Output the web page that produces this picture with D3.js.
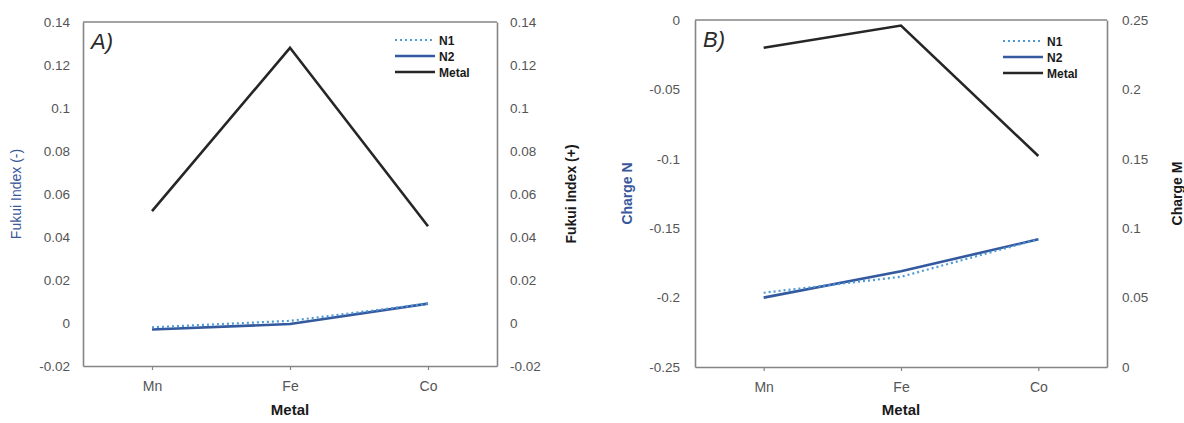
<!DOCTYPE html>
<html lang="en">
<head>
<meta charset="UTF-8">
<title>Fukui index and charge</title>
<style>
  body { margin: 0; background: #fff; }
  svg { font-family: "Liberation Sans", Arial, sans-serif; }
</style>
</head>
<body>
<script src="https://d3js.org/d3.v7.min.js"></script>
<script>
// categories
var metals = ["Mn", "Fe", "Co"];

// panel A - fukui index
var fukuiN1 = [-0.002, 0.001, 0.009];
var fukuiN2 = [-0.003, -0.0005, 0.009];
var fukuiMetal = [0.052, 0.128, 0.045];
var fukuiTicks = [-0.02, 0, 0.02, 0.04, 0.06, 0.08, 0.1, 0.12, 0.14];

// panel B - charges
var chargeN1 = [-0.1965, -0.185, -0.158];
var chargeN2 = [-0.200, -0.181, -0.158];
var chargeMetal = [0.230, 0.246, 0.152];
var chargeNTicks = [-0.25, -0.2, -0.15, -0.1, -0.05, 0];
var chargeMTicks = [0, 0.05, 0.1, 0.15, 0.2, 0.25];

var legendNames = ["N1", "N2", "Metal"];

var svg = d3.select("body").append("svg")
    .attr("width", 1184)
    .attr("height", 423);

var frameColor = "#858585";
var colN1 = "#4d9ad6", colN2 = "#34599f", colMetal = "#262626";
var fmt = function (d) { return String(+d.toFixed(3)); };

function drawPanel(p) {
    var x = d3.scalePoint().domain(metals).range([p.left, p.right]).padding(0.5);
    var yL = d3.scaleLinear().domain(p.leftDomain).range([p.bottom, p.top]);
    var yR = d3.scaleLinear().domain(p.rightDomain).range([p.bottom, p.top]);

    var g = svg.append("g");

    // frame top
    g.append("line")
        .attr("x1", p.left).attr("x2", p.right)
        .attr("y1", p.top).attr("y2", p.top)
        .attr("stroke", frameColor).attr("stroke-width", 1.6);

    var ax = g.append("g").attr("transform", "translate(0," + p.bottom + ")")
        .call(d3.axisBottom(x).tickSize(4).tickPadding(11).tickSizeOuter(0));
    var al = g.append("g").attr("transform", "translate(" + p.left + ",0)")
        .call(d3.axisLeft(yL).tickValues(p.leftTicks).tickFormat(fmt).tickSize(0).tickPadding(p.pad));
    var ar = g.append("g").attr("transform", "translate(" + p.right + ",0)")
        .call(d3.axisRight(yR).tickValues(p.rightTicks).tickFormat(fmt).tickSize(0).tickPadding(p.pad));

    [ax, al, ar].forEach(function (a) {
        a.select(".domain").attr("stroke", frameColor).attr("stroke-width", 1.6);
        a.selectAll(".tick line").attr("stroke", frameColor).attr("stroke-width", 1.2);
        a.selectAll("text").attr("fill", "#555").style("font-size", "13.5px");
    });
    ax.selectAll("text").style("font-size", "14px");

    var line = function (y) {
        return d3.line().x(function (d, i) { return x(metals[i]); }).y(function (d) { return y(d); });
    };

    g.append("path").datum(p.n2).attr("d", line(yL))
        .attr("fill", "none").attr("stroke", colN2).attr("stroke-width", 2.6);
    g.append("path").datum(p.n1).attr("d", line(yL))
        .attr("fill", "none").attr("stroke", colN1).attr("stroke-width", 2.2)
        .attr("stroke-dasharray", "2,3");
    g.append("path").datum(p.metal).attr("d", line(yR))
        .attr("fill", "none").attr("stroke", colMetal).attr("stroke-width", 2.6);

    // axis titles
    var cx = (p.left + p.right) / 2;
    g.append("text").attr("x", cx).attr("y", 415)
        .attr("text-anchor", "middle").style("font-size", "15px").style("font-weight", "bold")
        .attr("fill", "#1a1a1a").text("Metal");
    var cy = (p.top + p.bottom) / 2;
    g.append("text")
        .attr("transform", "translate(" + p.leftTitleX + "," + cy + ") rotate(-90)")
        .attr("text-anchor", "middle").style("font-size", "14px")
        .style("font-weight", p.leftTitleBold ? "bold" : "normal")
        .attr("fill", "#3a5799").text(p.leftTitle);
    g.append("text")
        .attr("transform", "translate(" + p.rightTitleX + "," + cy + ") rotate(-90)")
        .attr("text-anchor", "middle").style("font-size", "14px").style("font-weight", "bold")
        .attr("fill", "#1a1a1a").text(p.rightTitle);

    // panel letter
    g.append("text").attr("x", p.left + 8).attr("y", p.top + 27)
        .style("font-size", "22px").style("font-style", "italic")
        .attr("fill", "#2a2a2a").text(p.letter);

    // legend
    var leg = g.append("g").attr("transform", "translate(" + p.legX + "," + p.legY + ")");
    var styles = [
        { c: colN1, w: 2.2, dash: "2,3" },
        { c: colN2, w: 2.6, dash: null },
        { c: colMetal, w: 2.6, dash: null }
    ];
    legendNames.forEach(function (name, i) {
        leg.append("line").attr("x1", 0).attr("x2", 40)
            .attr("y1", i * 16).attr("y2", i * 16)
            .attr("stroke", styles[i].c).attr("stroke-width", styles[i].w)
            .attr("stroke-dasharray", styles[i].dash);
        leg.append("text").attr("x", 44).attr("y", i * 16 + 4.5)
            .style("font-size", "12px").style("font-weight", "bold")
            .attr("fill", "#1a1a1a").text(name);
    });
}

drawPanel({
    left: 83, right: 497, top: 22, bottom: 366, pad: 13,
    leftDomain: [-0.02, 0.14], rightDomain: [-0.02, 0.14],
    leftTicks: fukuiTicks, rightTicks: fukuiTicks,
    n1: fukuiN1, n2: fukuiN2, metal: fukuiMetal,
    leftTitle: "Fukui Index (-)", leftTitleBold: false, leftTitleX: 21,
    rightTitle: "Fukui Index (+)", rightTitleX: 576,
    letter: "A)", legX: 395, legY: 40
});

drawPanel({
    left: 695, right: 1107, top: 20, bottom: 367, pad: 15,
    leftDomain: [-0.25, 0], rightDomain: [0, 0.25],
    leftTicks: chargeNTicks, rightTicks: chargeMTicks,
    n1: chargeN1, n2: chargeN2, metal: chargeMetal,
    leftTitle: "Charge N", leftTitleBold: true, leftTitleX: 632,
    rightTitle: "Charge M", rightTitleX: 1182,
    letter: "B)", legX: 1003, legY: 41
});
</script>
</body>
</html>
